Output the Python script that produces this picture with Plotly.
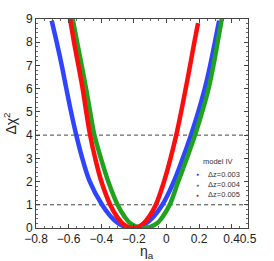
import plotly.graph_objects as go

# --- data (eta_a, delta chi^2) ---
eta_blue = [-0.704, -0.673, -0.642, -0.614, -0.585, -0.553, -0.516, -0.470, -0.395, -0.342, -0.295, -0.252, -0.210,
            -0.168, -0.125, -0.078, -0.025, 0.045, 0.100, 0.150, 0.195, 0.235, 0.268, 0.297, 0.323]
chi_blue = [8.93, 8.0, 7.0, 6.0, 5.0, 4.0, 3.0, 2.0, 1.0, 0.5, 0.2, 0.05, 0.0,
            0.05, 0.2, 0.5, 1.0, 2.0, 3.0, 4.0, 5.0, 6.0, 7.0, 8.0, 8.93]

eta_green = [-0.575, -0.548, -0.520, -0.493, -0.468, -0.442, -0.402, -0.357, -0.300, -0.258, -0.222, -0.180, -0.140,
             -0.100, -0.058, -0.022, 0.020, 0.072, 0.125, 0.175, 0.219, 0.258, 0.288, 0.314, 0.339]
chi_green = [9.0, 8.0, 7.0, 6.0, 5.0, 4.0, 3.0, 2.0, 1.0, 0.5, 0.2, 0.05, 0.0,
             0.05, 0.2, 0.5, 1.0, 2.0, 3.0, 4.0, 5.0, 6.0, 7.0, 8.0, 9.0]

eta_red = [-0.591, -0.567, -0.540, -0.514, -0.492, -0.468, -0.437, -0.399, -0.345, -0.305, -0.270, -0.238, -0.205,
           -0.172, -0.140, -0.105, -0.065, -0.015, 0.025, 0.060, 0.090, 0.118, 0.145, 0.171, 0.194]
chi_red = [9.0, 8.0, 7.0, 6.0, 5.0, 4.0, 3.0, 2.0, 1.0, 0.5, 0.2, 0.05, 0.0,
           0.05, 0.2, 0.5, 1.0, 2.0, 3.0, 4.0, 5.0, 6.0, 7.0, 8.0, 8.82]

series_names = ["Δz=0.003", "Δz=0.004", "Δz=0.005"]
series_colors = ["#2f44ff", "#1fa31f", "#ff0d0d"]
legend_title = "model IV"
x_title = "η<sub>a</sub>"
y_title = "Δχ<sup>2</sup>"
ref_levels = [1, 4]

x_tickvals = [-0.8, -0.6, -0.4, -0.2, 0, 0.2, 0.4, 0.5]
x_ticktext = ["−0.8", "−0.6", "−0.4", "−0.2", "0", "0.2", "0.4", "0.5"]
y_tickvals = [0, 1, 2, 3, 4, 5, 6, 7, 8, 9]

curves = [(eta_blue, chi_blue), (eta_green, chi_green), (eta_red, chi_red)]

fig = go.Figure()
font_main = "Liberation Sans, Arial, sans-serif"

for (xs, ys), name, col in zip(curves, series_names, series_colors):
    fig.add_trace(go.Scatter(x=xs, y=ys, mode="lines", name=name,
                             line=dict(color=col, width=4.5, shape="spline", smoothing=1.0),
                             showlegend=False, hoverinfo="skip"))

for lv in ref_levels:
    fig.add_hline(y=lv, line=dict(color="#444444", width=1, dash="4px,3px"), layer="below")

# legend drawn as text annotations (compact Mathematica-style legend)
leg_font = dict(family=font_main, size=7.5, color="#333333")
fig.add_annotation(xref="paper", yref="paper", x=0.858, y=0.316, text=legend_title,
                   showarrow=False, font=leg_font, xanchor="center", yanchor="middle")
for i, (name, col) in enumerate(zip(series_names, series_colors)):
    yy = 0.258 - i * 0.05
    fig.add_annotation(xref="paper", yref="paper", x=0.764, y=yy, text="●", showarrow=False,
                       font=dict(family=font_main, size=5, color=col), xanchor="center", yanchor="middle")
    fig.add_annotation(xref="paper", yref="paper", x=0.802, y=yy, text=name, showarrow=False,
                       font=leg_font, xanchor="left", yanchor="middle")

# x-axis title as an annotation for exact placement
fig.add_annotation(xref="paper", yref="paper", x=0.525, y=-0.117, text=x_title, showarrow=False,
                   font=dict(family=font_main, size=14, color="#222222"), xanchor="center", yanchor="middle")

axis_common = dict(showline=True, linecolor="#444444", linewidth=1, mirror="allticks",
                   ticks="inside", ticklen=4, tickcolor="#444444", showgrid=False, zeroline=False,
                   automargin=False, tickangle=0,
                   tickfont=dict(family=font_main, size=12, color="#222222"))

fig.update_xaxes(range=[-0.8, 0.5], tickvals=x_tickvals, ticktext=x_ticktext,
                 minor=dict(ticks="inside", ticklen=2, dtick=0.05, tick0=0, tickcolor="#666666"),
                 **axis_common)
fig.update_yaxes(range=[0, 9], tickvals=y_tickvals,
                 minor=dict(ticks="inside", ticklen=2, dtick=0.2, tick0=0, tickcolor="#666666"),
                 title=dict(text=y_title, font=dict(family=font_main, size=14, color="#222222"), standoff=6),
                 **axis_common)

fig.update_layout(
    width=274, height=261,
    margin=dict(l=36, r=26, t=19, b=33),
    paper_bgcolor="white", plot_bgcolor="white",
    showlegend=False,
)

fig.write_html("out.html", config={"displayModeBar": False},
               post_script="document.body.style.margin='0';document.body.style.padding='0';")
